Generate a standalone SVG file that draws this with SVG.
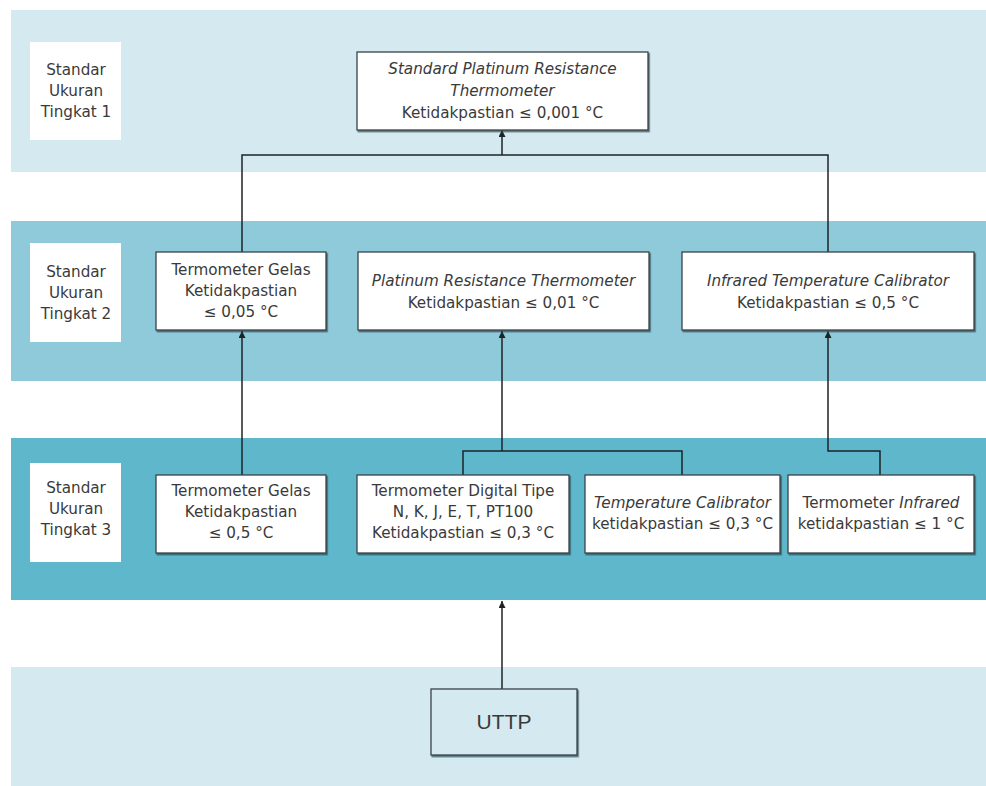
<svg xmlns="http://www.w3.org/2000/svg" width="986" height="786" viewBox="0 0 986 786">
  <style>
    .band1 { fill: #d4e9f0; }
    .band2 { fill: #8fcadb; }
    .band3 { fill: #5fb7cc; }
    .tag { fill: #ffffff; }
    .box { fill: #ffffff; stroke: #3b4448; stroke-width: 1.3; filter: url(#shade); }
    .boxlight { fill: #d4e9f0; stroke: #3b4448; stroke-width: 1.3; filter: url(#shade); }
    text { font-family: "DejaVu Sans", "Liberation Sans", sans-serif; font-size: 15.2px; fill: #3a3a3a; text-anchor: middle; }
    .it { font-style: italic; }
    .big { font-family: "Liberation Sans", "DejaVu Sans", sans-serif; font-size: 21px; }
    .wire { fill: none; stroke: #1e2326; stroke-width: 1.5; }
  </style>
  <defs>
    <filter id="shade" x="-5%" y="-5%" width="115%" height="120%">
      <feDropShadow dx="1.2" dy="1.6" stdDeviation="0.6" flood-color="#2c4852" flood-opacity="0.75"/>
    </filter>
    <marker id="head" viewBox="0 0 10 10" refX="10" refY="5" markerWidth="10" markerHeight="7" markerUnits="userSpaceOnUse" orient="auto">
      <path d="M0,0 L10,5 L0,10 z" fill="#1e2326"/>
    </marker>
  </defs>

  <!-- level bands -->
  <rect class="band1" x="11" y="10" width="975" height="162"/>
  <rect class="band2" x="11" y="221" width="975" height="160"/>
  <rect class="band3" x="11" y="438" width="975" height="162"/>
  <rect class="band1" x="11" y="667" width="975" height="119"/>

  <!-- level tags -->
  <g id="tag-level1">
    <rect class="tag" x="30" y="42" width="91" height="98"/>
    <text x="76" y="75">Standar</text>
    <text x="76" y="96">Ukuran</text>
    <text x="76" y="117">Tingkat 1</text>
  </g>
  <g id="tag-level2">
    <rect class="tag" x="30" y="243" width="91" height="99"/>
    <text x="76" y="277">Standar</text>
    <text x="76" y="298">Ukuran</text>
    <text x="76" y="319">Tingkat 2</text>
  </g>
  <g id="tag-level3">
    <rect class="tag" x="30" y="463" width="91" height="99"/>
    <text x="76" y="493">Standar</text>
    <text x="76" y="514">Ukuran</text>
    <text x="76" y="535">Tingkat 3</text>
  </g>

  <!-- connectors -->
  <g id="connectors">
    <path class="wire" d="M242,252 V155 H828 V252"/>
    <path class="wire" d="M502,155 V130" marker-end="url(#head)"/>
    <path class="wire" d="M242,475 V331" marker-end="url(#head)"/>
    <path class="wire" d="M463,475 V451 H682 V475"/>
    <path class="wire" d="M502,451 V331" marker-end="url(#head)"/>
    <path class="wire" d="M880,475 V451 H828 V331" marker-end="url(#head)"/>
    <path class="wire" d="M502,689 V601" marker-end="url(#head)"/>
  </g>

  <!-- level 1 -->
  <g id="node-sprt">
    <rect class="box" x="357" y="52" width="291" height="78"/>
    <text class="it" x="502.5" y="74">Standard Platinum Resistance</text>
    <text class="it" x="502.5" y="96">Thermometer</text>
    <text x="502.5" y="118">Ketidakpastian ≤ 0,001 °C</text>
  </g>

  <!-- level 2 -->
  <g id="node-gelas2">
    <rect class="box" x="156" y="252" width="170" height="78"/>
    <text x="241" y="275">Termometer Gelas</text>
    <text x="241" y="296">Ketidakpastian</text>
    <text x="241" y="317">≤ 0,05 °C</text>
  </g>
  <g id="node-prt">
    <rect class="box" x="358" y="252" width="291" height="78"/>
    <text class="it" x="503.5" y="286">Platinum Resistance Thermometer</text>
    <text x="503.5" y="308">Ketidakpastian ≤ 0,01 °C</text>
  </g>
  <g id="node-itc">
    <rect class="box" x="682" y="252" width="292" height="78"/>
    <text class="it" x="828" y="286">Infrared Temperature Calibrator</text>
    <text x="828" y="308">Ketidakpastian ≤ 0,5 °C</text>
  </g>

  <!-- level 3 -->
  <g id="node-gelas3">
    <rect class="box" x="156" y="475" width="170" height="78"/>
    <text x="241" y="496">Termometer Gelas</text>
    <text x="241" y="517">Ketidakpastian</text>
    <text x="241" y="538">≤ 0,5 °C</text>
  </g>
  <g id="node-digital">
    <rect class="box" x="357" y="475" width="212" height="78"/>
    <text x="463" y="496">Termometer Digital Tipe</text>
    <text x="463" y="517">N, K, J, E, T, PT100</text>
    <text x="463" y="538">Ketidakpastian ≤ 0,3 °C</text>
  </g>
  <g id="node-tempcal">
    <rect class="box" x="585" y="475" width="195" height="78"/>
    <text class="it" x="682.5" y="508">Temperature Calibrator</text>
    <text x="682.5" y="529">ketidakpastian ≤ 0,3 °C</text>
  </g>
  <g id="node-infrared">
    <rect class="box" x="788" y="475" width="186" height="78"/>
    <text x="881" y="508">Termometer <tspan class="it">Infrared</tspan></text>
    <text x="881" y="529">ketidakpastian ≤ 1 °C</text>
  </g>

  <!-- base -->
  <g id="node-uttp">
    <rect class="boxlight" x="431" y="689" width="146" height="66"/>
    <text class="big" x="504" y="729">UTTP</text>
  </g>
</svg>
